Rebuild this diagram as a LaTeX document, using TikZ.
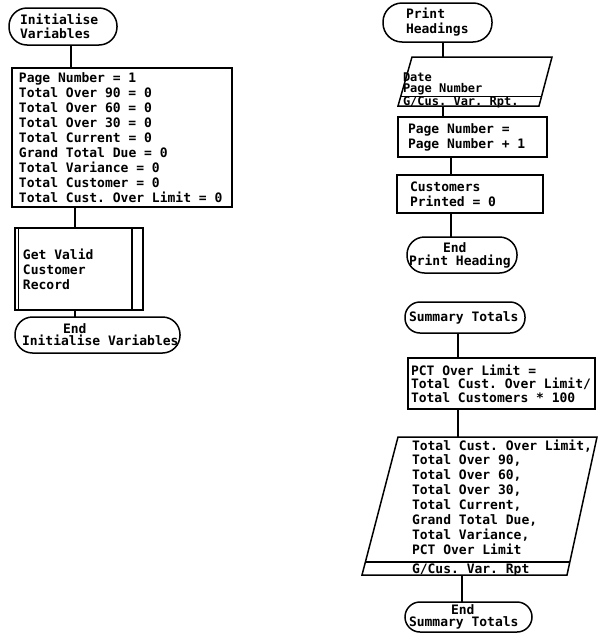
\documentclass[tikz,border=0pt]{standalone}
\usepackage{fontspec}
\newfontfamily\pf{DejaVu Sans Mono}
\newcommand\pfont[2]{\pf\bfseries\fontsize{#1}{#2}\selectfont\frenchspacing}
\usetikzlibrary{calc}
\begin{document}
\begin{tikzpicture}[x=1pt,y=-1pt,
  base/.style={draw, line width=1.5pt, font=\pfont{13}{15},
    align=left, anchor=north west, inner ysep=0pt, outer sep=0pt,
    execute at begin node={\spaceskip=0.6em\relax\xspaceskip=0.6em\relax}},
  io/.style={base, draw=none},
  conn/.style={line width=1.5pt},
  sp/.style={font=\pfont{13}{#1}}]
\useasboundingbox (0,0) rectangle (600,643);
% ---------- left column ----------
\node[base, rounded corners=18pt, minimum width=108pt, minimum height=37pt,
  text width=86pt, inner xsep=11pt, sp=14] (T1) at (9,8) {Initialise\\Variables};
\node[base, minimum width=220pt, minimum height=139pt, text width=206pt,
  inner xsep=7pt] (P1) at (12,68)
  {Page Number = 1\\Total Over 90 = 0\\Total Over 60 = 0\\Total Over 30 = 0\\
   Total Current = 0\\Grand Total Due = 0\\Total Variance = 0\\
   Total Customer = 0\\\mbox{Total Cust. Over Limit = 0}};
\node[base, minimum width=128pt, minimum height=82pt, text width=112pt,
  inner xsep=8pt] (G) at (15,228) {Get Valid\\Customer\\Record};
\draw[conn] ([xshift=3.5pt]G.north west) -- ([xshift=3.5pt]G.south west);
\draw[conn] ([xshift=-11pt]G.north east) -- ([xshift=-11pt]G.south east);
\node[base, rounded corners=17.5pt, minimum width=165pt, minimum height=36pt,
  text width=151pt, inner xsep=7pt, sp=12] (E1) at (15,317)
  {\hspace*{41pt}End\\\mbox{Initialise Variables}};
% ---------- right column ----------
\node[base, rounded corners=19pt, minimum width=109pt, minimum height=39pt,
  text width=63pt, inner xsep=23pt] (T2) at (383,3) {Print\\Headings};
\node[io, minimum width=152pt, minimum height=49pt, text width=144pt,
  inner xsep=5pt, font=\pfont{12}{11.5}] (IO1) at (398,57)
  {\rule{0pt}{24pt}Date\\Page Number\\[1pt]\rule[-1pt]{0pt}{0pt}\smash{G/Cus. Var. Rpt.}};
\draw[conn] ([xshift=14pt]IO1.north west) coordinate (a1) -- (IO1.north east) coordinate (b1)
  -- ([xshift=-13pt]IO1.south east) coordinate (c1) -- (IO1.south west) coordinate (d1) -- cycle;
\draw[line width=1.2pt] ($(d1)!0.2!(a1)$) -- ($(c1)!0.2!(b1)$);
\node[base, minimum width=149pt, minimum height=40pt, text width=129pt,
  inner xsep=10pt] (P2) at (398,117) {Page Number =\\Page Number + 1};
\node[base, minimum width=146pt, minimum height=38pt, text width=120pt,
  inner xsep=13pt] (P3) at (397,175) {Customers\\Printed = 0};
\node[base, rounded corners=17.5pt, minimum width=110pt, minimum height=36pt,
  text width=106pt, inner xsep=2pt, sp=13] (E2) at (407,237)
  {\hspace*{34pt}End\\\mbox{Print Heading}};
\node[base, rounded corners=15pt, minimum width=120pt, minimum height=31pt,
  text width=112pt, inner xsep=4pt] (T3) at (405,302) {\mbox{Summary Totals}};
\node[base, minimum width=187pt, minimum height=51pt, text width=181pt,
  inner xsep=3pt, sp=13.5] (P4) at (408,358)
  {PCT Over Limit =\\\mbox{Total Cust. Over Limit/}\\Total Customers * 100};
\node[io, minimum width=185pt, minimum height=138pt, text width=185pt,
  inner xsep=0pt, sp=14.9] (IO2) at (412,437)
  {\rule{0pt}{13pt}\mbox{Total Cust. Over Limit,}\\Total Over 90,\\Total Over 60,\\Total Over 30,\\
   Total Current,\\Grand Total Due,\\Total Variance,\\PCT Over Limit\\[3.8pt]
   \rule[-2pt]{0pt}{0pt}\smash{G/Cus. Var. Rpt}};
\draw[conn] ([xshift=-14pt]IO2.north west) coordinate (a2) -- (IO2.north east) coordinate (b2)
  -- ([xshift=-30pt]IO2.south east) coordinate (c2) -- ([xshift=-50pt]IO2.south west) coordinate (d2) -- cycle;
\draw[line width=1.2pt] ($(d2)!0.094!(a2)$) -- ($(c2)!0.094!(b2)$);
\node[base, rounded corners=15pt, minimum width=127pt, minimum height=30pt,
  text width=119pt, inner xsep=4pt, sp=12] (E3) at (405,602)
  {\hspace*{42pt}End\\\mbox{Summary Totals}};
% ---------- connectors ----------
\coordinate (x1) at (71,0);
\coordinate (x2) at (75,0);
\coordinate (x3) at (443,0);
\coordinate (x4) at (451,0);
\coordinate (x5) at (458,0);
\coordinate (x6) at (462,0);
\draw[conn] (x1 |- T1.south) -- (x1 |- P1.north);
\draw[conn] (x2 |- P1.south) -- (x2 |- G.north);
\draw[conn] (x2 |- G.south) -- (x2 |- E1.north);
\draw[conn] (x3 |- T2.south) -- (x3 |- IO1.north);
\draw[conn] (x3 |- IO1.south) -- (x3 |- P2.north);
\draw[conn] (x4 |- P2.south) -- (x4 |- P3.north);
\draw[conn] (x4 |- P3.south) -- (x4 |- E2.north);
\draw[conn] (x5 |- T3.south) -- (x5 |- P4.north);
\draw[conn] (x5 |- P4.south) -- (x5 |- IO2.north);
\draw[conn] (x6 |- IO2.south) -- (x6 |- E3.north);
\end{tikzpicture}
\end{document}
